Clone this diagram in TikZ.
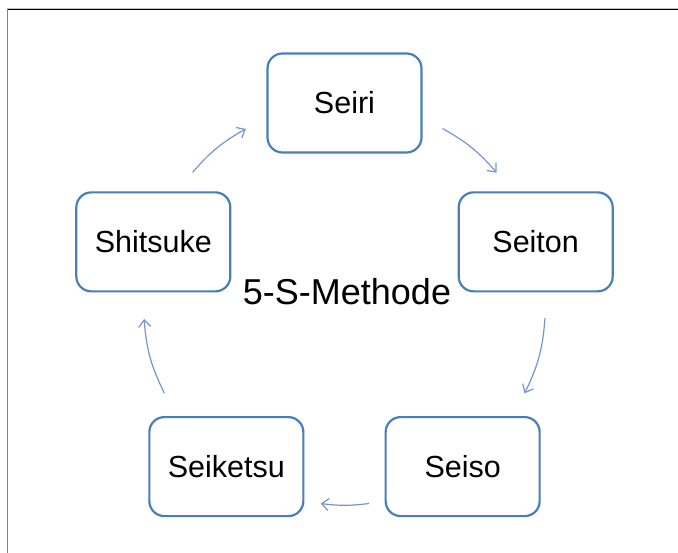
\documentclass[tikz,border=0pt]{standalone}
\usepackage{fontspec}
\setmainfont{Liberation Sans}
\usetikzlibrary{arrows.meta}
\definecolor{boxblue}{RGB}{74,126,187}
\definecolor{arrowblue}{RGB}{118,149,206}

\begin{document}
\begin{tikzpicture}[x=1pt, y=1pt,
  sbox/.style={draw=boxblue, line width=2.2pt, rounded corners=15pt, minimum width=154pt, minimum height=99pt, fill=white, font=\fontsize{30.5}{36}\selectfont},
  cyc/.style={draw=arrowblue, line width=1.2pt, -{Straight Barb[length=7pt,width=12pt]}}]
\useasboundingbox (0,0) rectangle (678,553);
% Rahmen
\draw[black!25, line width=1pt] (7,544.8) -- (678,544.8);
\draw[black, line width=1.4pt] (7,543.5) -- (678,543.5);
\draw[black!50, line width=1.5pt] (7.3,0) -- (7.3,544.2);

\coordinate (mid) at (344.5,249);
\foreach \a/\name in {90/Seiri, 18/Seiton, -54/Seiso, -126/Seiketsu, 162/Shitsuke}
  \node[sbox] (\name) at ([shift={(\a:201)}]mid) {\name};

\node[font=\fontsize{36}{42}\selectfont, anchor=base] (titel) at (347,248.5) {5-S-Methode};

% Pfeile
\foreach \s/\e/\b [count=\i] in {60.8/40.8/10, -4/-26.4/11, -83/-96.8/7, -153.6/-175.7/11, 139.1/119.4/10} {
  \coordinate (von\i) at ([shift={(\s:201)}]mid);
  \coordinate (nach\i) at ([shift={(\e:201)}]mid);
  \draw[cyc] (von\i) to[bend left=\b] (nach\i);
}
\end{tikzpicture}
\end{document}
